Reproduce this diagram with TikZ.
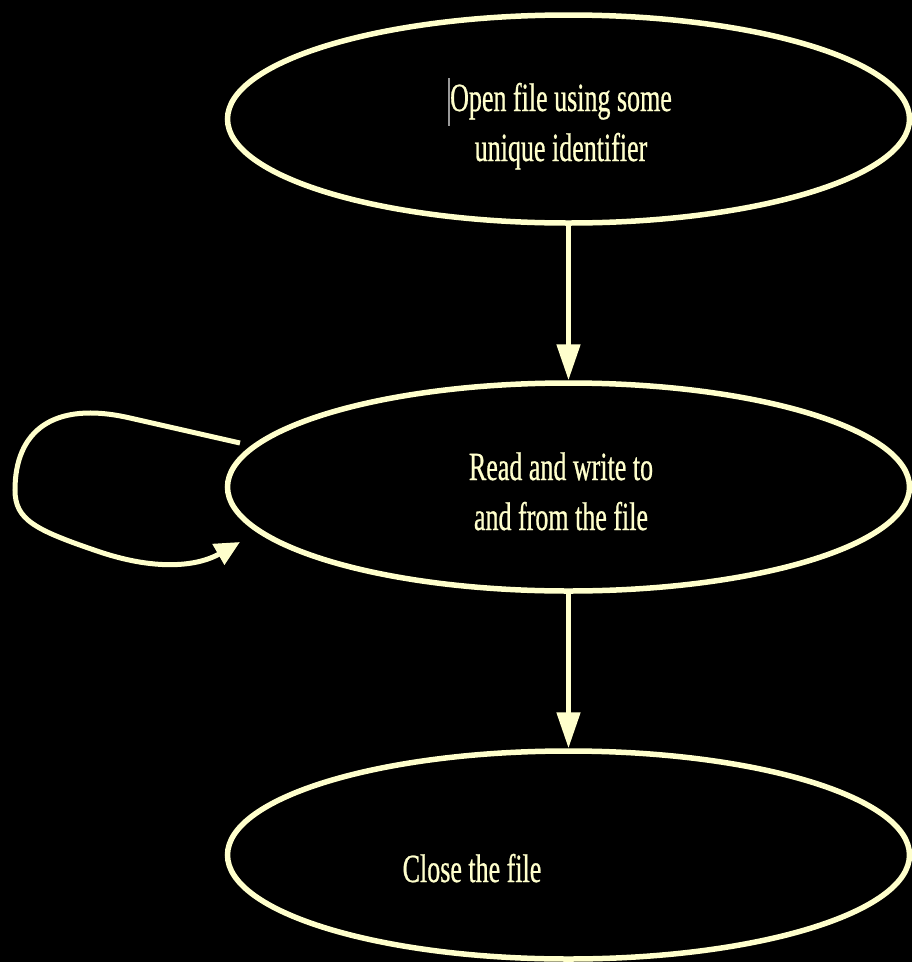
\documentclass[tikz,border=0pt]{standalone}
\usepackage{fontspec}
\setmainfont{Liberation Serif}[FakeStretch=0.65, FakeBold=0.6]
\usetikzlibrary{shapes.geometric,arrows.meta}
\definecolor{cream}{HTML}{FFFFCC}
\tikzset{
  state/.style={ellipse, draw=cream, line width=5.5pt, inner sep=0pt,
    minimum width=682pt, minimum height=208pt},
  lbl/.style={text=cream, align=center, inner sep=0pt,
    font=\fontsize{40}{50}\selectfont},
  flow/.style={draw=cream, line width=5pt,
    -{Triangle[length=36pt,width=23pt]}},
  loopflow/.style={draw=cream, line width=5pt,
    -{Triangle[length=25pt,width=23pt]}}
}
\begin{document}
\begin{tikzpicture}[x=1pt,y=-1pt]
  \fill[black] (0,0) rectangle (912,962);
  \useasboundingbox (0,0) rectangle (912,962);

  % the three states
  \node[state] (open)  at (568.5,119) {};
  \node[state] (rw)    at (568.5,487) {};
  \node[state] (close) at (568.5,855) {};

  % their texts (base anchor sits on the last line)
  \node[lbl, anchor=base] (topen) at (561,161) {Open file using some\\unique identifier};
  \node[lbl, anchor=base] (trw) at (561,530) {Read and write to\\and from the file};
  \node[lbl, anchor=base] (tclose) at (472,882) {Close the file};

  % text cursor before the first word
  \draw[gray!80, line width=1.5pt] (449,78) -- (449,126);

  % transitions
  \draw[flow] (open.south) -- (rw.north);
  \draw[flow] (rw.south) -- (close.north);

  % self loop on the read/write state
  \coordinate (loopout) at (240,443);
  \coordinate (loopin) at (240,542);
  \draw[loopflow] (loopout) -- (130,418)
    .. controls (52,400) and (15,432) .. (15,490)
    .. controls (15,520) and (35,530) .. (100,552)
    .. controls (160,572) and (200,565) .. (loopin);
\end{tikzpicture}
\end{document}
